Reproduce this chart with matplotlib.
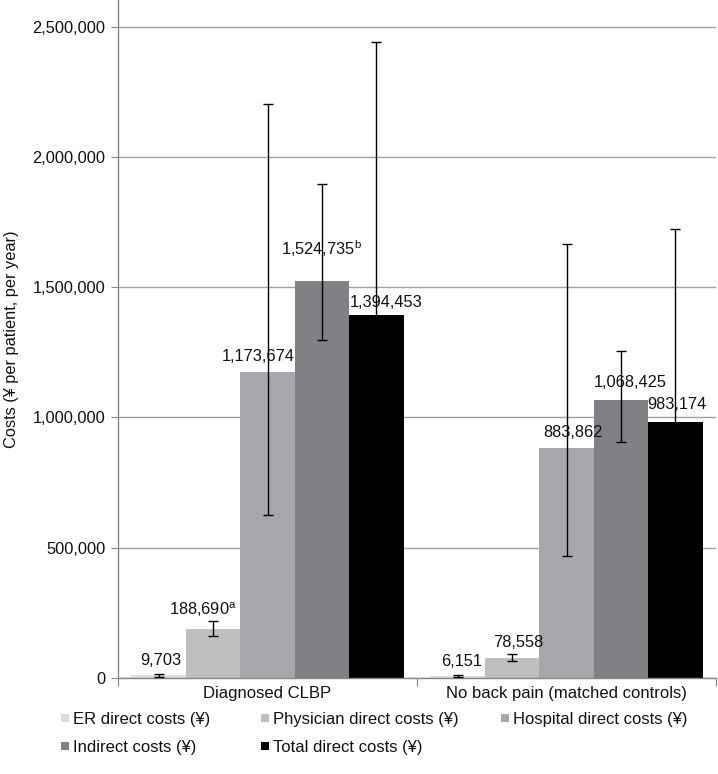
import matplotlib
matplotlib.use("Agg")
import matplotlib.pyplot as plt
from matplotlib.patches import Rectangle
import numpy as np

plt.rcParams['font.family'] = ['Liberation Sans', 'DejaVu Sans']
plt.rcParams['mathtext.fontset'] = 'custom'
plt.rcParams['mathtext.rm'] = 'Liberation Sans'
plt.rcParams['mathtext.it'] = 'Liberation Sans'

# ---- data ----
categories = ["Diagnosed CLBP", "No back pain (matched controls)"]
series = ["ER direct costs (¥)", "Physician direct costs (¥)", "Hospital direct costs (¥)",
          "Indirect costs (¥)", "Total direct costs (¥)"]
er_costs = [9703, 6151]
physician_costs = [188690, 78558]
hospital_costs = [1173674, 883862]
indirect_costs = [1524735, 1068425]
total_costs = [1394453, 983174]

# error bar bounds (lower, upper)
er_lo, er_hi = [4000, 2500], [16000, 11000]
physician_lo, physician_hi = [161000, 65000], [218600, 92000]
hospital_lo, hospital_hi = [625000, 469000], [2203000, 1664000]
indirect_lo, indirect_hi = [1298600, 907500], [1895000, 1255000]
total_lo, total_hi = [350000, 243000], [2440000, 1723000]

superscripts = [["", "a", "", "b", ""], ["", "", "", "", ""]]

yticks = [0, 500000, 1000000, 1500000, 2000000, 2500000]

# ---- styles ----
colors = ["#dcdcdc", "#bebfc1", "#a6a7aa", "#808184", "#000000"]
label_dx = [[2, -10, -9, 0, 10], [4, 6, 6, 9, 2]]
label_dy = [[10, 14, 11, 26, 8], [10, 11, 11, 13, 13]]

values = [er_costs, physician_costs, hospital_costs, indirect_costs, total_costs]
lows = [er_lo, physician_lo, hospital_lo, indirect_lo, total_lo]
highs = [er_hi, physician_hi, hospital_hi, indirect_hi, total_hi]

W, H, DPI = 718, 774, 100
fig = plt.figure(figsize=(W / DPI, H / DPI), dpi=DPI)
ax = fig.add_axes([118 / W, (H - 678) / H, 598 / W, 678 / H])

x = np.arange(len(categories))
bw = 0.182
fs = 12
for i, (name, vals) in enumerate(zip(series, values)):
    xpos = x + (i - 2) * bw
    ax.bar(xpos, vals, width=bw, color=colors[i], zorder=2, label=name)
    yerr = [np.array(vals) - np.array(lows[i]), np.array(highs[i]) - np.array(vals)]
    ax.errorbar(xpos, vals, yerr=yerr, fmt='none', ecolor='black', elinewidth=1.0,
                capsize=3.5, capthick=1.0, zorder=3)
    for j, v in enumerate(vals):
        sup = superscripts[j][i]
        txt = f"{v:,}" + (f"$^{{\\mathrm{{{sup}}}}}$" if sup else "")
        ax.annotate(txt, (xpos[j], v), xytext=(label_dx[j][i], label_dy[j][i]),
                    textcoords='offset pixels', ha='center', va='baseline',
                    fontsize=fs - 0.2, color='#111111', zorder=4)

ax.set_xlim(-0.5, 1.5)
ax.set_ylim(0, 2602000)
ax.set_yticks(yticks)
ax.set_yticklabels([f"{t:,}" for t in yticks], fontsize=fs - 0.2, color='#111111')
ax.yaxis.grid(True, color='#a0a0a0', linewidth=1.0, zorder=0)
ax.set_axisbelow(True)

# categories: labels at centres, ticks at boundaries
ax.set_xticks([-0.5, 0.5, 1.5])
ax.set_xticklabels([])
ax.set_xticks(x, minor=True)
ax.set_xticklabels(categories, minor=True, fontsize=fs, color='#111111')
ax.tick_params(axis='x', which='major', length=6, color='#868686')
ax.tick_params(axis='x', which='minor', length=0, pad=6)
ax.tick_params(axis='y', length=5, color='#868686', pad=4)

for s in ['top', 'right']:
    ax.spines[s].set_visible(False)
for s in ['left', 'bottom']:
    ax.spines[s].set_color('#868686')
    ax.spines[s].set_linewidth(1.0)

ax.set_ylabel("Costs (¥ per patient, per year)", fontsize=fs - 0.2, color='#111111')
ax.yaxis.set_label_coords(-99 / 598, 0.5)

# ---- legend (row-wise, drawn in figure pixels) ----
leg_sq_x = [65, 265, 505, 65, 265]
leg_row_px = [718, 746]
leg_rows = [0, 0, 0, 1, 1]
sq = 8
for k in range(len(series)):
    cy = H - leg_row_px[leg_rows[k]]
    fig.patches.append(Rectangle(((leg_sq_x[k] - sq / 2) / W, (cy - sq / 2) / H), sq / W, sq / H,
                                 transform=fig.transFigure, facecolor=colors[k],
                                 edgecolor='none'))
    fig.text((leg_sq_x[k] + 8) / W, cy / H, series[k], ha='left', va='center_baseline',
             fontsize=fs, color='#111111')

fig.savefig("out.png", dpi=DPI)
